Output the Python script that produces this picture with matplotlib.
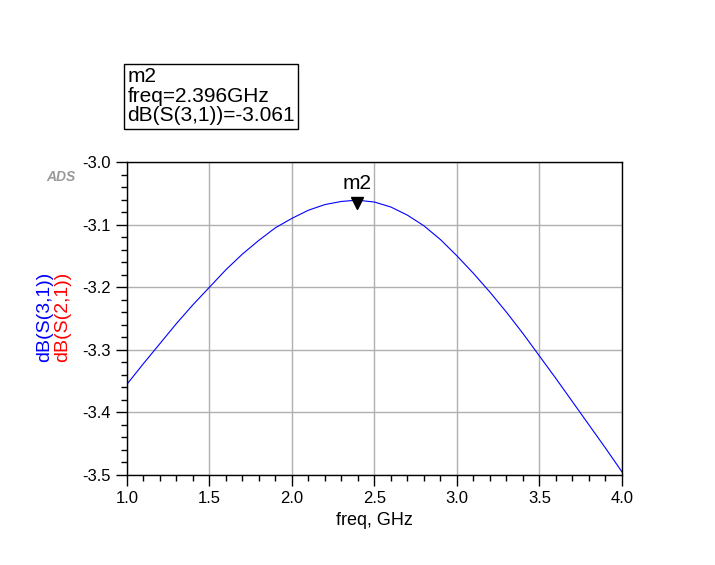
import matplotlib.pyplot as plt
import numpy as np

plt.rcParams['font.family'] = ['Liberation Sans', 'DejaVu Sans']

freq = [1.0, 1.1, 1.2, 1.3, 1.4, 1.5, 1.6, 1.7, 1.8, 1.9, 2.0, 2.1, 2.2, 2.3, 2.396,
        2.5, 2.6, 2.7, 2.8, 2.9, 3.0, 3.1, 3.2, 3.3, 3.4, 3.5, 3.6, 3.7, 3.8, 3.9, 4.0]
s31 = [-3.355, -3.322, -3.29, -3.258, -3.228, -3.200, -3.172, -3.147, -3.125, -3.105,
       -3.090, -3.077, -3.068, -3.063, -3.061, -3.064, -3.072, -3.085, -3.102, -3.124,
       -3.150, -3.178, -3.208, -3.240, -3.274, -3.310, -3.346, -3.383, -3.420, -3.457, -3.495]
m_freq = 2.396
m_val = -3.061

fig = plt.figure(figsize=(7.15, 5.65), dpi=100)
ax = fig.add_axes([0.1776, 0.1593, 0.6923, 0.554])
ax.plot(freq, s31, color='blue', lw=0.8)
ax.set_xlim(1.0, 4.0)
ax.set_ylim(-3.5, -3.0)
ax.set_xticks(np.arange(1.0, 4.01, 0.5))
ax.set_yticks(np.arange(-3.5, -2.99, 0.1))
ax.set_xticks(np.arange(1.0, 4.01, 0.1), minor=True)
ax.set_yticks(np.arange(-3.5, -2.99, 0.02), minor=True)
ax.set_xticklabels([f'{v:.1f}' for v in np.arange(1.0, 4.01, 0.5)])
ax.set_yticklabels([f'{v:.1f}' for v in np.arange(-3.5, -2.99, 0.1)])
ax.tick_params(which='major', direction='out', length=8, width=1, labelsize=12)
ax.tick_params(which='minor', direction='out', length=4, width=1)
ax.grid(True, which='major', color='#b0b0b0', lw=1)
for s in ax.spines.values():
    s.set_linewidth(1)
ax.set_xlabel('freq, GHz', fontsize=13)

ax.plot([m_freq], [m_val - 0.005], marker='v', color='black', ms=8)
ax.text(m_freq, m_val + 0.012, 'm2', ha='center', va='bottom', fontsize=15)

fig.text(0.062, 0.36, 'dB(S(3,1))', color='blue', rotation=90, fontsize=14, ha='center', va='bottom')
fig.text(0.087, 0.36, 'dB(S(2,1))', color='red', rotation=90, fontsize=14, ha='center', va='bottom')
fig.text(0.065, 0.687, 'ADS', color='#999999', fontsize=10, style='italic', weight='bold', va='center')

fig.text(0.178, 0.778, 'm2\nfreq=2.396GHz\ndB(S(3,1))=-3.061', fontsize=15, va='bottom', ha='left',
         linespacing=1.05, bbox=dict(facecolor='white', edgecolor='black', boxstyle='square,pad=0.15'))

fig.savefig('out.png')
